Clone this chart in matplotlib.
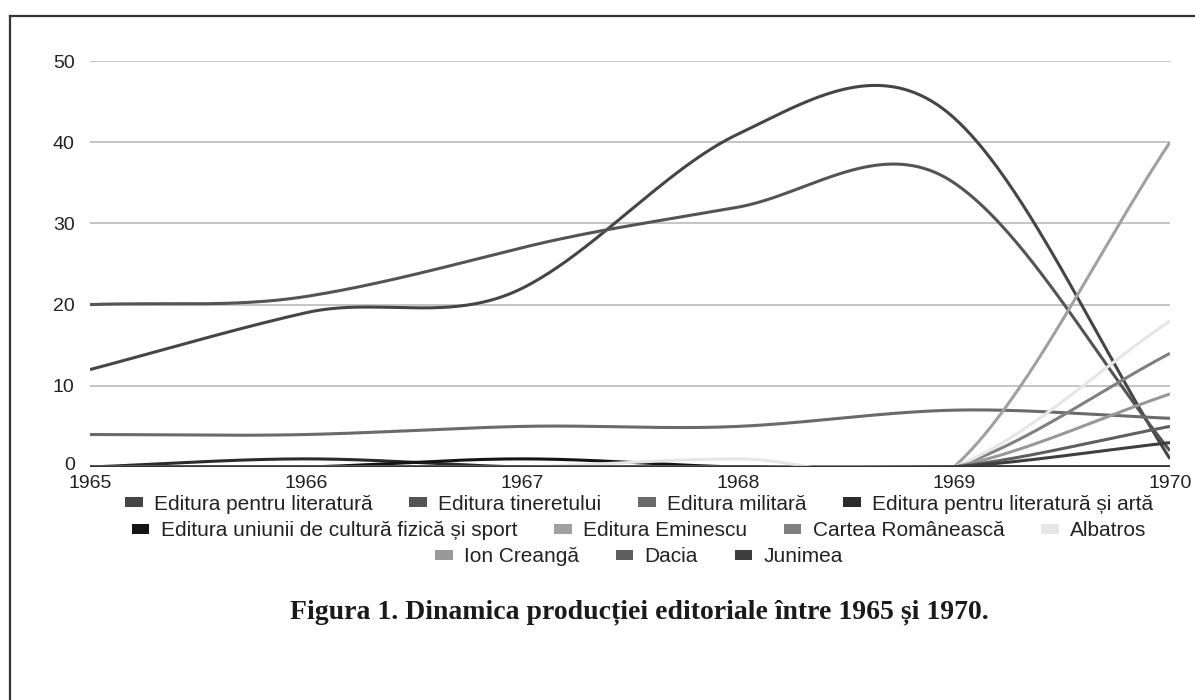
import numpy as np
import matplotlib
matplotlib.use("Agg")
import matplotlib.pyplot as plt
import matplotlib.transforms as mtransforms
from matplotlib.patches import Patch
from matplotlib.lines import Line2D

# data
years = [1965, 1966, 1967, 1968, 1969, 1970]
series_names = [
    "Editura pentru literatură", "Editura tineretului", "Editura militară",
    "Editura pentru literatură și artă",
    "Editura uniunii de cultură fizică și sport", "Editura Eminescu",
    "Cartea Românească", "Albatros", "Ion Creangă", "Dacia", "Junimea",
]
lit = [12, 19, 22, 41, 43, 1]
tineret = [20, 21, 27, 32, 35, 2]
militara = [4, 4, 5, 5, 7, 6]
lit_arta = [0, 1, 0, 0, 0, 0]
uniunii = [0, 0, 1, 0, 0, 0]
eminescu = [0, 0, 0, 0, 0, 40]
cartea = [0, 0, 0, 0, 0, 14]
albatros = [0, 0, 0, 1, 0, 18]
creanga = [0, 0, 0, 0, 0, 9]
dacia = [0, 0, 0, 0, 0, 5]
junimea = [0, 0, 0, 0, 0, 3]
all_values = [lit, tineret, militara, lit_arta, uniunii, eminescu,
              cartea, albatros, creanga, dacia, junimea]

colors = ["#454545", "#545454", "#6a6a6a", "#2b2b2b", "#141414", "#a0a0a0",
          "#808080", "#e6e6e6", "#989898", "#5e5e5e", "#3e3e3e"]

legend_rows = [[0, 1, 2, 3], [4, 5, 6, 7], [8, 9, 10]]
y_ticks = [0, 10, 20, 30, 40, 50]
caption = "Figura 1. Dinamica producției editoriale între 1965 și 1970."


def smooth(x, y, k=0.6, n=80):
    # hermite smoothing: inner tangents from the neighbours, end tangents = chord
    x = np.asarray(x, float)
    y = np.asarray(y, float)
    m = np.zeros_like(y)
    m[1:-1] = k * (y[2:] - y[:-2])
    m[0] = y[1] - y[0]
    m[-1] = y[-1] - y[-2]
    t = np.linspace(0, 1, n)
    h00 = 2 * t**3 - 3 * t**2 + 1
    h10 = t**3 - 2 * t**2 + t
    h01 = -2 * t**3 + 3 * t**2
    h11 = t**3 - t**2
    xs, ys = [], []
    for i in range(len(x) - 1):
        xs.append(x[i] + t * (x[i + 1] - x[i]))
        ys.append(h00 * y[i] + h10 * m[i] + h01 * y[i + 1] + h11 * m[i + 1])
    return np.concatenate(xs), np.concatenate(ys)


plt.rcParams["font.family"] = ["Liberation Sans", "DejaVu Sans"]
fig = plt.figure(figsize=(11.95, 7), dpi=100)
ax = fig.add_axes([90 / 1195, 1 - 467 / 700, 1080 / 1195, 406 / 700])
ax.set_xlim(1965, 1970)
ax.set_ylim(0, 50)

for yt in y_ticks[1:]:
    ax.axhline(yt, color="#b4b4b4", lw=1.1, zorder=1)

for vals, c in zip(all_values, colors):
    cx, cy = smooth(years, vals)
    ax.plot(cx, cy, color=c, lw=2.2, solid_capstyle="butt", zorder=3)

ax.axhline(0, color="#333333", lw=1.6, zorder=4)

ax.set_xticks(years)
ax.set_yticks(y_ticks)
ax.tick_params(length=0, labelsize=14, colors="#222222")
ax.tick_params(axis="x", pad=6)
ax.tick_params(axis="y", pad=11)
for sp in ax.spines.values():
    sp.set_visible(False)

# lift the "0" label a little so it does not run into "1965"
zero_lbl = ax.get_yticklabels()[0]
zero_lbl.set_transform(zero_lbl.get_transform()
                       + mtransforms.ScaledTranslation(0, 4 / 100, fig.dpi_scale_trans))

# outer frame (only left and top edges are visible in the scan)
fig.add_artist(Line2D([10 / 1195, 10 / 1195], [0, 1 - 16 / 700], color="#333333", lw=1.6))
fig.add_artist(Line2D([10 / 1195, 1.0], [1 - 16 / 700, 1 - 16 / 700], color="#333333", lw=1.6))

row_y = [504, 531, 557]
for row, ypx in zip(legend_rows, row_y):
    handles = [Patch(facecolor=colors[i], edgecolor="none", label=series_names[i]) for i in row]
    fig.legend(handles=handles, loc="center", bbox_to_anchor=(639 / 1195, 1 - ypx / 700),
               ncol=len(row), frameon=False, fontsize=15, handlelength=0.85,
               handleheight=0.3, handletextpad=0.55, columnspacing=1.75,
               labelcolor="#222222", borderpad=0, borderaxespad=0)

fig.text(639 / 1195, 1 - 612 / 700, caption, ha="center", va="center",
         fontsize=20, fontweight="bold", family=["Liberation Serif", "DejaVu Serif"],
         color="#1a1a1a")

fig.savefig("out.png", dpi=100)
